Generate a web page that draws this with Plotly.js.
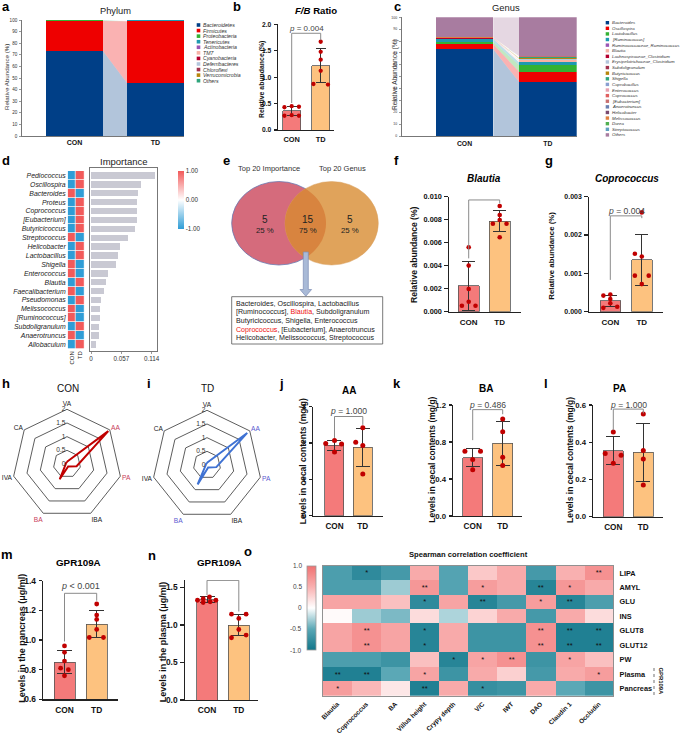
<!DOCTYPE html>
<html><head><meta charset="utf-8">
<script src="https://cdn.plot.ly/plotly-3.0.1.min.js"></script>
<style>html,body{margin:0;padding:0;background:#fff}#chart{width:680px;height:737px}</style>
</head><body><div id="chart"></div>
<script>
// ================= DATA =================
const groups = ['CON','TD'];

// a: phylum (relative abundance %)
const phyla = ['Bacteroidetes','Firmicutes','Proteobacteria','Tenericutes','Actinobacteria','TM7','Cyanobacteria','Deferribacteres','Chloroflexi','Verrucomicrobia','Others'];
const phylumCON = [73.2,25.9,0.5,0.1,0.05,0.02,0.03,0.05,0.01,0.01,0.13];
const phylumTD  = [45.7,53.3,0.3,0.5,0.05,0.02,0.02,0.03,0.01,0.01,0.06];

// c: genus (relative abundance %)
const genera = ['Bacteroides','Oscillospira','Lactobacillus','[Ruminococcus]','Ruminococcaceae_Ruminococcus','Blautia','Lachnospiraceae_Clostridium','Erysipelotrichaceae_Clostridium','Subdoligranulum','Butyricicoccus','Shigella','Coprobacillus','Enterococcus','Coprococcus','[Eubacterium]','Anaerotruncus','Helicobacter','Melissococcus','Dorea','Streptococcus','Others'];
const genusCON = [73.0,4.2,2.0,2.3,0.4,0.2,0.15,0.2,0.1,0.15,0.05,0.05,0.05,0.03,0.03,0.03,0.03,0.03,0.03,0.03,16.97];
const genusTD  = [45.7,8.5,5.6,2.3,0.6,1.0,0.3,0.6,0.3,1.0,0.3,0.3,0.2,0.15,0.15,0.1,0.1,0.1,0.05,0.05,32.6];

// b: F/B ratio
const fbMean = [0.36,1.22], fbSD = [0.09,0.33];
const fbCON = [0.43,0.45,0.44,0.27,0.28,0.27];
const fbTD  = [1.67,1.48,1.33,1.12,0.87,0.86];
const fbBracket = [0.51,1.83,1.70], fbP = '= 0.004';

// d: importance
const impGenus = ['Pediococcus','Oscillospira','Bacteroides','Proteus','Coprococcus','[Eubacterium]','Butyricicoccus','Streptococcus','Helicobacter','Lactobacillus','Shigella','Enterococcus','Blautia','Faecalibacterium','Pseudomonas','Melissococcus','[Ruminococcus]','Subdoligranulum','Anaerotruncus','Allobaculum'];
const impCON = [-1,-1,1,-1,-1,-1,-1,1,-1,-1,1,1,-1,1,-1,1,1,-1,1,-1];
const impTD  = [1,1,-1,1,1,1,1,-1,1,1,-1,-1,1,-1,1,-1,-1,1,-1,1];
const impValue = [0.1202,0.0933,0.0888,0.0870,0.0864,0.0858,0.0821,0.0689,0.0545,0.0507,0.0475,0.0319,0.0287,0.0244,0.0193,0.0169,0.0163,0.0156,0.0156,0.0088];
const impTicks = [0,0.057,0.114];

// e: venn
const vennCounts = [5,15,5];
const vennPct = ['25 %','75 %','25 %'];
const vennSets = ['Top 20 Importance','Top 20 Genus'];
const sharedLines = [
  'Bacteroides, Oscillospira, Lactobacillus',
  '[Ruminococcus], <span style="color:#ee1111">Blautia</span>, Subdoligranulum',
  'Butyricicoccus, Shigella, Enterococcus',
  '<span style="color:#ee1111">Coprococcus</span>, [Eubacterium], Anaerotruncus',
  'Helicobacter, Melissococcus, Streptococcus'];

// f: Blautia
const blMean = [0.00224,0.00786], blSD = [0.00212,0.00091];
const blCON = [0.00559,0.0040,0.00197,0.00087,0.00052,0.00052];
const blTD  = [0.00918,0.0084,0.00796,0.00764,0.00764,0.00646];
const blBracket = [0.00463,0.0097,0.0094], blP = '= 0.004';

// g: Coprococcus
const coMean = [0.00028,0.00135], coSD = [0.00015,0.00066];
const coCON = [0.00042,0.00045,0.00033,0.00022,0.00010,0.00013];
const coTD  = [0.00259,0.00151,0.00144,0.00094,0.00094,0.00072];
const coBracket = [0.00083,0.0025,0.00244], coP = '= 0.004';

// h, i: SCFA radar
const scfaAxes = ['VA','AA','PA','IBA','BA','IVA','CA'];
const scfaCON = [0.08,1.93,0.36,0.10,0.62,0.05,0.05];
const scfaTD  = [0.08,1.88,0.35,0.10,0.79,0.05,0.05];
const radarTicks = [0,0.5,1,1.5,2];

// j: AA
const aaMean = [1.94,1.88], aaSD = [0.14,0.53];
const aaCON = [1.99,2.07,1.97,1.75];
const aaTD  = [2.42,2.02,1.93,1.15];
const aaBracket = [2.14,2.73,2.50], aaP = '= 1.000';
// k: BA
const baMean = [0.63,0.785], baSD = [0.10,0.235];
const baCON = [0.70,0.70,0.61,0.50];
const baTD  = [1.05,0.91,0.635,0.545];
const baBracket = [0.82,1.15,1.10], baP = '= 0.486';
// l: PA
const paMean = [0.355,0.346], paSD = [0.075,0.155];
const paCON = [0.455,0.34,0.33,0.287];
const paTD  = [0.552,0.355,0.31,0.17];
const paBracket = [0.465,0.578,0.555], paP = '= 1.000';

// m: GPR109A pancreas
const gpMean = [0.85,1.105], gpSD = [0.078,0.091];
const gpCON = [0.96,0.917,0.858,0.81,0.80,0.759];
const gpTD  = [1.243,1.168,1.139,1.071,1.017,1.017];
const gpBracket = [0.99,1.315,1.265], gpP = '&lt; 0.001';
// n: GPR109A plasma
const plMean = [1.34,1.0], plSD = [0.036,0.143];
const plCON = [1.33,1.35,1.375,1.33,1.30,1.31];
const plTD  = [1.145,1.145,1.088,0.94,0.83,0.866];
const plBracket = [1.40,1.595,1.18], plP = '= 0.002';

// o: Spearman correlation
const corrCols = ['Blautia','Coprococcus','BA','Villus height','Crypy depth','V/C','IWT','DAO','Claudin 1','Occludin'];
const corrRows = ['LIPA','AMYL','GLU','INS','GLUT8','GLUT12','PW','Plasma','Pancreas'];
const corrZ = [
 [-0.6,-0.8,-0.65,0.55,-0.55,0.35,0.55,-0.65,0.5,0.75],
 [-0.6,-0.6,-0.3,0.7,-0.55,0.65,0.55,-0.85,0.7,0.55],
 [0.6,0.6,0.4,-0.8,0.6,-0.85,-0.65,0.65,-0.85,-0.6],
 [0.03,-0.3,-0.4,0.22,-0.25,0.28,0.55,-0.65,0.55,0.22],
 [0.6,0.75,0.6,-0.85,0.55,-0.7,-0.7,0.75,-0.9,-0.9],
 [0.6,0.75,0.6,-0.85,0.55,-0.7,-0.7,0.75,-0.9,-0.9],
 [-0.6,-0.6,-0.7,0.4,-0.85,0.6,0.75,-0.7,0.6,0.4],
 [-0.9,-0.9,-0.5,0.6,-0.7,0.55,0.3,-0.65,0.55,0.65],
 [0.65,0.45,0.15,-0.9,0.55,-0.75,-0.7,0.55,-0.5,-0.7]];
const corrSig = [
 ['','*','','','','','','','','**'],
 ['','','','**','','*','','**','*',''],
 ['','','','*','','**','','*','**',''],
 ['','','','','','','','','',''],
 ['','**','','*','','','','**','**','**'],
 ['','**','','*','','','','**','**','**'],
 ['','','','','*','*','**','','*',''],
 ['**','**','','*','','','','','','*'],
 ['*','','','**','','*','','','','']];
const corrTicks = [1,0.5,0,-0.5,-1];

// ================= STYLE / HELPERS =================
const FONT = 'Liberation Sans, Arial, Helvetica, sans-serif';
const W = 680, H = 737;
const px = v => v / W, py = v => 1 - v / H;
const xd = (a, b) => [a / W, b / W];
const yd = (t, b) => [1 - b / H, 1 - t / H];
const CON_C = '#f47a7a', TD_C = '#fdc27f', DOT = '#c00000';
const phylumColors = ['#003f87','#ee0000','#33b233','#1e9ab0','#9a55b4','#f7b2a6','#b5002e','#b3c5dc','#a2324f','#b8860b','#2fa57c'];
const genusColors = ['#003f87','#ee0000','#33b233','#1e9ab0','#9a55b4','#f7b2a6','#b5002e','#b3c5dc','#a2324f','#b8860b','#2fa57c','#8a9fd1','#e8a0b0','#e06060','#c87070','#6a7fb0','#7a4a70','#e08040','#50b050','#60a0c0','#a87ca0'];

function fnt(size, color = '#111', weight = 'normal', style = 'normal') { return {family: FONT, size, color, weight, style}; }
function hexA(h, a) { const n = parseInt(h.slice(1), 16); return `rgba(${n >> 16},${(n >> 8) & 255},${n & 255},${a})`; }

const traces = [];
const layout = {width: W, height: H, margin: {l: 0, r: 0, t: 0, b: 0}, paper_bgcolor: '#fff', plot_bgcolor: 'rgba(0,0,0,0)',
  showlegend: false, barmode: 'stack', font: {family: FONT, color: '#111'}, annotations: [], shapes: []};

function ann(x, y, text, size, o = {}) {
  layout.annotations.push(Object.assign({xref: 'paper', yref: 'paper', x: px(x), y: py(y), text, showarrow: false,
    xanchor: o.xa || 'center', yanchor: o.ya || 'middle', borderpad: 0, textangle: o.rot || 0,
    font: fnt(size, o.color || '#111', o.weight || 'normal', o.style || 'normal')}, o.extra || {}));
}
function letter(x, base, ch) { ann(x, base - 0.35 * 13, ch, 13, {xa: 'left', weight: 'bold', color: '#000'}); }
function rect(x0, y0, x1, y1, fill, line, lw) {
  layout.shapes.push({type: 'rect', xref: 'paper', yref: 'paper', x0: px(x0), x1: px(x1), y0: py(y0), y1: py(y1), fillcolor: fill, line: {color: line || fill, width: lw || 0}});
}

// ---------- stacked composition panels (a, c) ----------
function stackPanel(id, cats, con, td, colors, g) {
  const unit = g.c1 - g.c0, w = g.bw / unit, xr = 'x' + id, yr = 'y' + id;
  layout['xaxis' + id] = {domain: xd(g.l, g.r), range: [(g.l - g.c0) / unit, (g.r - g.c0) / unit], anchor: yr,
    showline: true, linecolor: '#555', linewidth: 0.8, ticks: '', tickvals: [0, 1], ticktext: groups,
    tickfont: fnt(g.xfs, '#111', 'bold'), showgrid: false, zeroline: false, ticklabelstandoff: g.xst};
  layout['yaxis' + id] = {domain: yd(g.t, g.b), range: [0, 100], anchor: xr, showline: true, linecolor: '#555', linewidth: 0.8,
    ticks: 'outside', ticklen: 2, tickwidth: 0.6, tickcolor: '#555', tick0: 0, dtick: 10, tickfont: fnt(g.yfs, '#333'),
    showgrid: false, zeroline: false, ticklabelstandoff: 1};
  let cc = 0, ct = 0;
  cats.forEach((c, i) => {
    traces.push({type: 'bar', x: [0, 1], y: [con[i], td[i]], width: w, xaxis: xr, yaxis: yr, marker: {color: colors[i], line: {width: 0}}});
    const x0 = w / 2, x1 = 1 - w / 2;
    traces.push({type: 'scatter', mode: 'lines', x: [x0, x1, x1, x0, x0], y: [cc, ct, ct + td[i], cc + con[i], cc],
      fill: 'toself', fillcolor: hexA(colors[i], 0.3), line: {width: 0, color: 'rgba(0,0,0,0)'}, xaxis: xr, yaxis: yr});
    cc += con[i]; ct += td[i];
  });
  // legend
  cats.forEach((c, i) => {
    const y = g.legY + g.legStep * i;
    rect(g.legX, y - g.sw / 2, g.legX + g.sw, y + g.sw / 2, colors[i]);
    ann(g.legX + g.sw + 1.8, y, c, g.legFs, {xa: 'left', style: 'italic', color: '#333'});
  });
  ann(g.titX, g.titY, g.title, g.titFs, {color: '#222'});
  ann(g.ytX, g.ytY, 'Relative Abundance (%)', g.ytFs, {rot: -90, color: '#333'});
}

// ---------- bar + dots panels ----------
function barPanel(id, s) {
  const unit = s.c1 - s.c0, w = s.bw / unit, xr = 'x' + id, yr = 'y' + id;
  layout['xaxis' + id] = {domain: xd(s.l, s.r), range: [(s.l - s.c0) / unit, (s.r - s.c0) / unit], anchor: yr,
    showline: true, linecolor: '#222', linewidth: 1.2, ticks: '', tickvals: [0, 1], ticktext: groups,
    tickfont: fnt(s.xfs, '#111', 'bold'), showgrid: false, zeroline: false, ticklabelstandoff: s.xst || 2};
  layout['yaxis' + id] = {domain: yd(s.t, s.b), range: s.yr, anchor: xr, showline: true, linecolor: '#222', linewidth: 1.2,
    ticks: 'outside', ticklen: 3.5, tickwidth: 1.1, tickcolor: '#222', tickvals: s.yt, tickformat: s.fmt,
    tickfont: fnt(s.yfs, '#111', 'bold'), showgrid: false, zeroline: false, ticklabelstandoff: 1};
  traces.push({type: 'bar', x: [0, 1], y: s.mean, width: w, xaxis: xr, yaxis: yr,
    marker: {color: [CON_C, TD_C], line: {color: '#555', width: 0.8}},
    error_y: {type: 'data', array: s.sd, visible: true, color: '#333', thickness: 1, width: s.cap}});
  const xs = [], ys = [];
  s.pts.forEach((arr, gi) => arr.forEach((v, k) => { xs.push(gi + s.jit[gi][k]); ys.push(v); }));
  traces.push({type: 'scatter', mode: 'markers', x: xs, y: ys, xaxis: xr, yaxis: yr, cliponaxis: false,
    marker: {color: DOT, size: s.ms}});
  traces.push({type: 'scatter', mode: 'lines', x: [0, 0, 1, 1], y: [s.br[0], s.br[1], s.br[1], s.br[2]], xaxis: xr, yaxis: yr,
    line: {color: '#8a8a8a', width: 1}});
  layout.annotations.push({xref: xr, yref: yr, x: 0.5, y: s.pY, text: '<i>p</i> ' + s.p, showarrow: false, borderpad: 0,
    yanchor: 'middle', font: fnt(s.pfs, '#444')});
  ann(s.tX, s.tY, s.title, s.tfs, {weight: 'bold', color: '#000'});
  ann(s.ytX, s.ytY, s.ytitle, s.ytfs, {rot: -90, weight: 'bold', color: '#111'});
}

// ================= PANEL a =================
stackPanel(1, phyla, phylumCON, phylumTD, phylumColors,
  {l: 22, r: 184, t: 20, b: 136, c0: 74.5, c1: 155.5, bw: 57, xfs: 7, yfs: 4.6, xst: 0,
   legX: 196.7, legY: 25, legStep: 5.57, sw: 3.6, legFs: 5.2, title: 'Phylum', titX: 115, titY: 11, titFs: 9.3,
   ytX: 7, ytY: 77, ytFs: 6.2});
// ================= PANEL c =================
stackPanel(3, genera, genusCON, genusTD, genusColors,
  {l: 401.7, r: 576.7, t: 17.3, b: 136, c0: 464.5, c1: 547.8, bw: 57.6, xfs: 6.8, yfs: 3.5, xst: 1,
   legX: 605.7, legY: 22.7, legStep: 5.61, sw: 3.4, legFs: 4.4, title: 'Genus', titX: 506, titY: 7.8, titFs: 9.4,
   ytX: 395, ytY: 75, ytFs: 6.6});

// ================= PANEL b =================
barPanel(2, {l: 278.3, r: 334, t: 24.3, b: 130, c0: 291.7, c1: 320.7, bw: 18, yr: [0, 2], yt: [0, 0.5, 1, 1.5, 2], fmt: '.1f',
  mean: fbMean, sd: fbSD, pts: [fbCON, fbTD], jit: [[-0.25, 0, 0.25, -0.25, 0, 0.25], [0, 0, 0, 0, -0.25, 0.25]],
  br: fbBracket, p: fbP, pY: 1.92, pfs: 8, cap: 5, ms: 4.3,
  title: '<i>F/B</i> Ratio', tX: 315.8, tY: 10.7, tfs: 9.6, ytitle: 'Relative abundance (%)', ytX: 262, ytY: 80, ytfs: 6.9,
  xfs: 7.4, yfs: 6.7});

// ================= PANEL d =================
layout.xaxis4 = {domain: xd(67.7, 84.3), anchor: 'y4', type: 'category', tickangle: -90, tickfont: fnt(6, '#222'),
  ticks: '', showline: false, showgrid: false, zeroline: false, ticklabelstandoff: 0};
layout.yaxis4 = {domain: yd(171, 349), anchor: 'x4', type: 'category', range: [19.5, -0.5], tickfont: fnt(6.9, '#222', 'normal', 'italic'),
  ticks: '', showline: false, showgrid: false, zeroline: false, ticklabelstandoff: 1};
traces.push({type: 'heatmap', x: groups, y: impGenus, z: impGenus.map((g, i) => [impCON[i], impTD[i]]), xaxis: 'x4', yaxis: 'y4',
  zmin: -1, zmax: 1, xgap: 0.7, ygap: 0.7, colorscale: [[0, '#2f9dd6'], [0.5, '#ffffff'], [1, '#f25a5a']],
  colorbar: {x: px(178), xanchor: 'left', y: py(199.5), yanchor: 'middle', len: 58, lenmode: 'pixels', thickness: 6.3,
    xpad: 0, ypad: 0, outlinewidth: 0, tickvals: [-1, 0, 1], ticktext: ['-1.00', '0.00', '1.00'], ticks: '', tickfont: fnt(6.3, '#333')}});
layout.xaxis5 = {domain: xd(90, 156.7), anchor: 'y5', range: [-0.0019, 0.1234], tickvals: impTicks, ticktext: ['0', '0.057', '0.114'],
  tickfont: fnt(6.3, '#333'), ticks: 'outside', ticklen: 2, tickwidth: 0.6, tickcolor: '#555', showline: true, mirror: true,
  linecolor: '#555', linewidth: 0.8, showgrid: false, zeroline: false};
layout.yaxis5 = {domain: yd(168, 350.7), anchor: 'x5', type: 'category', range: [19.69, -0.84], showticklabels: false, ticks: '',
  showline: true, mirror: true, linecolor: '#555', linewidth: 0.8, showgrid: false, zeroline: false};
traces.push({type: 'bar', orientation: 'h', y: impGenus, x: impValue, xaxis: 'x5', yaxis: 'y5', width: 0.72,
  marker: {color: '#c9c9d3', line: {width: 0}}});
ann(123.7, 161.7, 'Importance', 9.5, {color: '#222'});

// ================= PANEL e (Venn) =================
layout.shapes.push({type: 'circle', xref: 'paper', yref: 'paper', x0: px(231.7), x1: px(326), y0: py(181.5), y1: py(265),
  fillcolor: '#d56b7c', line: {color: '#6a78b0', width: 0.8}});
layout.shapes.push({type: 'circle', xref: 'paper', yref: 'paper', x0: px(285), x1: px(378.3), y0: py(181.5), y1: py(265),
  fillcolor: '#e0a35b', line: {color: '#d9a060', width: 0.5}});
(function () {
  const E = (cx, cy, rx, ry, d) => { const t = d * Math.PI / 180; return [cx + rx * Math.cos(t), cy + ry * Math.sin(t)]; };
  const pts = [];
  for (let d = 124.4; d < 235.6; d += 3) pts.push(E(331.65, 223.25, 46.65, 41.75, d));
  pts.push(E(331.65, 223.25, 46.65, 41.75, 235.6));
  for (let d = -55.6; d < 55.6; d += 3) pts.push(E(278.85, 223.25, 47.15, 41.75, d));
  pts.push(E(278.85, 223.25, 47.15, 41.75, 55.6));
  layout.shapes.push({type: 'path', xref: 'paper', yref: 'paper', fillcolor: '#d8843f', line: {width: 0},
    path: 'M' + pts.map(p => px(p[0]).toFixed(5) + ',' + py(p[1]).toFixed(5)).join('L') + 'Z'});
  const a = [[303.3, 252], [308.3, 252], [308.3, 289.5], [311.6, 289.5], [305.8, 296.2], [300, 289.5], [303.3, 289.5]];
  layout.shapes.push({type: 'path', xref: 'paper', yref: 'paper', fillcolor: '#a9bad7', line: {color: '#7d8db5', width: 0.7},
    path: 'M' + a.map(p => px(p[0]).toFixed(5) + ',' + py(p[1]).toFixed(5)).join('L') + 'Z'});
})();
rect(231.7, 296.7, 382.7, 344, '#ffffff', '#555', 0.8);
ann(268.7, 169, vennSets[0], 7.5, {color: '#333'});
ann(342, 169, vennSets[1], 7.5, {color: '#333'});
[265, 307.7, 350].forEach((x, i) => { ann(x, 220, String(vennCounts[i]), 10, {color: '#222'}); ann(x, 230.3, vennPct[i], 7.8, {color: '#222'}); });
sharedLines.forEach((t, i) => ann(235.3, 303.6 + 8.7 * i, t, 7.1, {xa: 'left', color: '#222'}));

// ================= PANEL f, g =================
barPanel(6, {l: 449, r: 521, t: 196.5, b: 311.7, c0: 468.7, c1: 499.7, bw: 20.7, yr: [0, 0.010], yt: [0, 0.002, 0.004, 0.006, 0.008, 0.010], fmt: '.3f',
  mean: blMean, sd: blSD, pts: [blCON, blTD], jit: [[0, 0, 0, 0, -0.22, 0.22], [0, 0, 0, -0.22, 0.22, 0]],
  br: blBracket, p: blP, pY: 0.0101, pfs: 8.6, cap: 6.5, ms: 4.6,
  title: '<i>Blautia</i>', tX: 484.3, tY: 178.7, tfs: 10, ytitle: 'Relative abundance (%)', ytX: 414, ytY: 254, ytfs: 8.6,
  xfs: 8, yfs: 7.3});
barPanel(7, {l: 589, r: 663, t: 196.7, b: 311.7, c0: 610.3, c1: 641.8, bw: 20.5, yr: [0, 0.003], yt: [0, 0.001, 0.002, 0.003], fmt: '.3f',
  mean: coMean, sd: coSD, pts: [coCON, coTD], jit: [[-0.22, 0, 0, 0, -0.22, 0.22], [0, -0.22, 0, -0.22, 0.22, 0]],
  br: coBracket, p: coP, pY: 0.00264, pfs: 8.6, cap: 6.5, ms: 4.6,
  title: '<i>Coprococcus</i>', tX: 626.7, tY: 178.7, tfs: 10, ytitle: 'Relative abundance (%)', ytX: 551.7, ytY: 256, ytfs: 7.8,
  xfs: 8, yfs: 7});

// ================= PANEL h, i (radar) =================
function radar(key, vals, color, cx, cy, r, hi) {
  layout[key] = {domain: {x: xd(cx - r, cx + r), y: yd(cy - r, cy + r)}, bgcolor: 'rgba(0,0,0,0)', gridshape: 'linear',
    radialaxis: {range: [0, 2], tickvals: radarTicks, ticktext: radarTicks.map(String), angle: 90, side: 'counterclockwise', tickangle: 90,
      showline: false, gridcolor: '#333', gridwidth: 0.8, ticks: '', tickfont: fnt(6.6, '#333')},
    angularaxis: {type: 'category', categoryarray: scfaAxes, direction: 'clockwise', rotation: 90, showgrid: false, showline: true,
      linecolor: '#333', linewidth: 0.8, ticks: '', tickmode: 'array', tickvals: scfaAxes,
      ticktext: scfaAxes.map(a => ['AA', 'PA', 'BA'].includes(a) ? `<span style="color:${hi}">${a}</span>` : a), tickfont: fnt(6.6, '#222')}};
  traces.push({type: 'scatterpolar', subplot: key, r: [...vals, vals[0]], theta: [...scfaAxes, scfaAxes[0]], mode: 'lines',
    line: {color, width: 2}});
}
radar('polar', scfaCON, '#c00000', 67, 464, 54.7, '#c83c5a');
radar('polar2', scfaTD, '#3f72d3', 207, 465, 54.7, '#5a5ad0');
ann(68, 388, 'CON', 10, {color: '#111'});
ann(207.7, 388, 'TD', 10, {color: '#111'});

// ================= PANEL j, k, l =================
barPanel(8, {l: 313.3, r: 383, t: 406.7, b: 515.7, c0: 334.5, c1: 362.8, bw: 19, yr: [0, 3], yt: [0, 1, 2, 3], fmt: 'd',
  mean: aaMean, sd: aaSD, pts: [aaCON, aaTD], jit: [[-0.31, 0, 0.25, 0], [0, -0.25, 0, 0]],
  br: aaBracket, p: aaP, pY: 2.87, pfs: 8.6, cap: 7, ms: 5,
  title: 'AA', tX: 349, tY: 390.7, tfs: 10, ytitle: 'Levels in cecal contents (mg/g)', ytX: 303.3, ytY: 461, ytfs: 8.5,
  xfs: 8.2, yfs: 7.8});
barPanel(9, {l: 453.3, r: 521.7, t: 405, b: 516, c0: 472.7, c1: 502.7, bw: 20, yr: [0, 1.2], yt: [0, 0.4, 0.8, 1.2], fmt: '.1f',
  mean: baMean, sd: baSD, pts: [baCON, baTD], jit: [[-0.26, 0.26, 0, 0], [0, 0, 0, 0]],
  br: baBracket, p: baP, pY: 1.2, pfs: 8.6, cap: 7, ms: 5,
  title: 'BA', tX: 486, tY: 388.5, tfs: 10, ytitle: 'Levels in cecal contents (mg/g)', ytX: 431.7, ytY: 460, ytfs: 8.5,
  xfs: 8.2, yfs: 7.8});
barPanel(10, {l: 593.3, r: 663.3, t: 405, b: 516.7, c0: 613.3, c1: 643.3, bw: 20, yr: [0, 0.6], yt: [0, 0.2, 0.4, 0.6], fmt: '.1f',
  mean: paMean, sd: paSD, pts: [paCON, paTD], jit: [[0, -0.27, 0.26, 0], [0, 0, 0, 0]],
  br: paBracket, p: paP, pY: 0.6, pfs: 8.6, cap: 7, ms: 5,
  title: 'PA', tX: 619.3, tY: 388.5, tfs: 10, ytitle: 'Levels in cecal contents (mg/g)', ytX: 570, ytY: 460, ytfs: 8.5,
  xfs: 8.2, yfs: 7.8});

// ================= PANEL m, n =================
barPanel(11, {l: 43.3, r: 118.3, t: 580.7, b: 699.3, c0: 64.5, c1: 96.7, bw: 21, yr: [0.6, 1.4], yt: [0.6, 0.8, 1.0, 1.2, 1.4], fmt: '.1f',
  mean: gpMean, sd: gpSD, pts: [gpCON, gpTD], jit: [[0, 0, 0, -0.12, 0.12, 0], [0, 0, 0, 0, -0.23, 0.21]],
  br: gpBracket, p: gpP, pY: 1.367, pfs: 9, cap: 7.5, ms: 4.8,
  title: 'GPR109A', tX: 78.3, tY: 562.7, tfs: 9.8, ytitle: 'Levels in the pancreas (μg/ml)', ytX: 21.7, ytY: 638, ytfs: 9,
  xfs: 8.4, yfs: 8.4});
barPanel(12, {l: 185, r: 258, t: 580, b: 700, c0: 207, c1: 238.8, bw: 21, yr: [0, 1.6], yt: [0, 0.5, 1, 1.5], fmt: '.1f',
  mean: plMean, sd: plSD, pts: [plCON, plTD], jit: [[-0.3, -0.12, 0.08, 0.28, -0.12, 0.1], [-0.23, 0.23, 0, 0, -0.23, 0.23]],
  br: plBracket, p: plP, pY: 1.63, pfs: 9, cap: 7.5, ms: 4.8,
  title: 'GPR109A', tX: 219.3, tY: 562.7, tfs: 9.8, ytitle: 'Levels in the plasma (μg/ml)', ytX: 163.3, ytY: 642, ytfs: 9,
  xfs: 8.4, yfs: 8.4});

// ================= PANEL o =================
layout.xaxis13 = {domain: xd(322.7, 613.3), anchor: 'y13', type: 'category', tickangle: -45, tickfont: fnt(6.5, '#111', 'bold'),
  ticks: '', showline: true, mirror: true, linecolor: '#777', linewidth: 0.8, showgrid: false, zeroline: false, ticklabelstandoff: 1};
layout.yaxis13 = {domain: yd(565.7, 696), anchor: 'x13', type: 'category', autorange: 'reversed', side: 'right',
  tickfont: fnt(7.3, '#111', 'bold'), ticks: '', showline: true, mirror: true, linecolor: '#777', linewidth: 0.8,
  showgrid: false, zeroline: false, ticklabelstandoff: 4};
traces.push({type: 'heatmap', x: corrCols, y: corrRows, z: corrZ, text: corrSig, texttemplate: '%{text}', textfont: fnt(7.5, '#111'),
  xaxis: 'x13', yaxis: 'y13', zmin: -1, zmax: 1,
  colorscale: [[0, '#11768a'], [0.25, '#5ba8b6'], [0.5, '#ffffff'], [0.75, '#f9b0b0'], [1, '#f07272']],
  colorbar: {x: px(306.7), xanchor: 'left', y: py(607.85), yanchor: 'middle', len: 84.3, lenmode: 'pixels', thickness: 9,
    xpad: 0, ypad: 0, outlinewidth: 0.8, outlinecolor: '#999', showticklabels: false, ticks: ''}});
corrTicks.forEach(v => ann(303, 607.85 - v * 42.15, v === 0 ? '0' : v.toFixed(1), 6.5, {xa: 'right', color: '#444'}));
ann(468, 554.5, 'Spearman correlation coefficient', 7.6, {weight: 'bold', color: '#111'});
ann(661, 681.5, 'GPR109A', 5.9, {rot: 90, weight: 'bold', color: '#111'});
layout.shapes.push({type: 'line', xref: 'paper', yref: 'paper', x0: px(654), x1: px(654), y0: py(668), y1: py(695),
  line: {color: '#333', width: 0.7, dash: 'dot'}});

// ================= panel letters =================
letter(0.5, 11, 'a'); letter(231.5, 11.5, 'b'); letter(393, 11.5, 'c');
letter(0.5, 165, 'd'); letter(221.5, 165, 'e'); letter(393, 165.5, 'f'); letter(544, 165, 'g');
letter(0.5, 388, 'h'); letter(146, 388, 'i'); letter(277.5, 388, 'j'); letter(392.5, 388, 'k'); letter(542.5, 388, 'l');
letter(0, 559, 'm'); letter(146.5, 560.5, 'n'); letter(243, 556.5, 'o');

Plotly.newPlot('chart', traces, layout, {staticPlot: true, displayModeBar: false});
</script>
</body></html>
